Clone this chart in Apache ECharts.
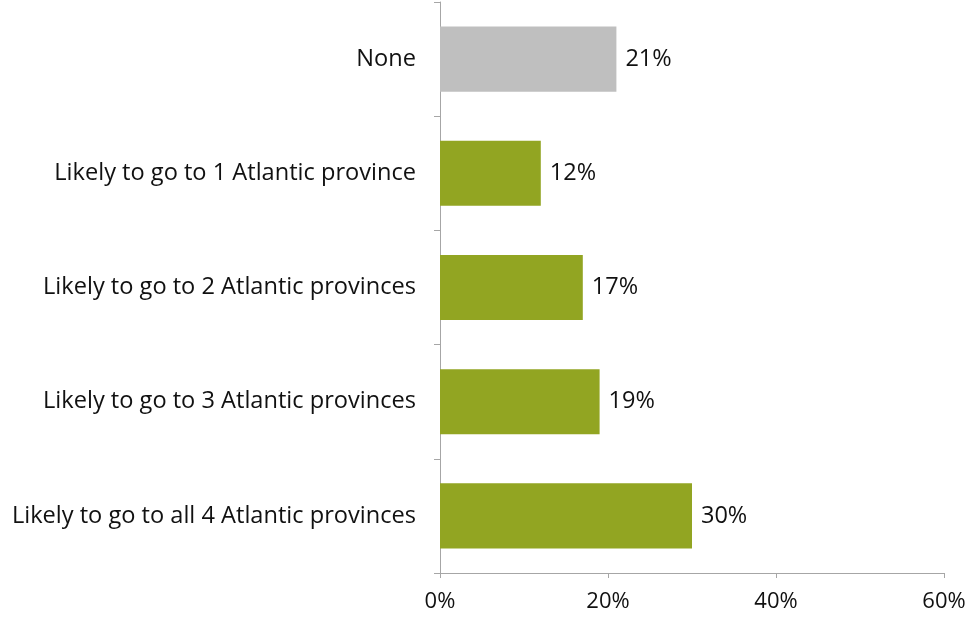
<!DOCTYPE html>
<html>
<head>
<meta charset="utf-8">
<script src="https://cdn.jsdelivr.net/npm/echarts@6/dist/echarts.min.js"></script>
<style>
  html, body { margin: 0; padding: 0; background: #fff; }
  #main { width: 974px; height: 620px; }
</style>
</head>
<body>
<div id="main"></div>
<script>
// categories top to bottom
var categories = [
    "None",
    "Likely to go to 1 Atlantic province",
    "Likely to go to 2 Atlantic provinces",
    "Likely to go to 3 Atlantic provinces",
    "Likely to go to all 4 Atlantic provinces"
];
var values = [21, 12, 17, 19, 30];
var barColors = ["#bfbfbf", "#92a522", "#92a522", "#92a522", "#92a522"];
var xTicks = [0, 20, 40, 60];

var myChart = echarts.init(document.getElementById('main'));
var fontFam = "'Open Sans', 'Noto Sans', sans-serif";

var option = {
    animation: false,
    grid: { left: 440, right: 30, top: 2, bottom: 47, containLabel: false },
    xAxis: {
        type: 'value',
        min: xTicks[0],
        max: xTicks[xTicks.length - 1],
        interval: 20,
        splitLine: { show: false },
        axisLine: { show: true, lineStyle: { color: '#a6a6a6', width: 1 } },
        axisTick: { show: true, length: 5, lineStyle: { color: '#a6a6a6' } },
        axisLabel: {
            formatter: '{value}%', color: '#111', fontSize: 22, fontFamily: fontFam, margin: 18
        }
    },
    yAxis: {
        type: 'category',
        inverse: true,
        data: categories,
        axisLine: { show: true, lineStyle: { color: '#a6a6a6', width: 1 } },
        axisTick: { show: true, length: 6, lineStyle: { color: '#a6a6a6' } },
        axisLabel: { color: '#111', fontSize: 23.6, fontFamily: fontFam, margin: 24 }
    },
    series: [{
        type: 'bar',
        data: values.map(function (v, i) {
            return { value: v, itemStyle: { color: barColors[i] } };
        }),
        barCategoryGap: '43%',
        label: {
            show: true, position: 'right', distance: 9,
            formatter: '{c}%', color: '#111', fontSize: 23.5, fontFamily: fontFam
        }
    }]
};

myChart.setOption(option);
</script>
</body>
</html>
